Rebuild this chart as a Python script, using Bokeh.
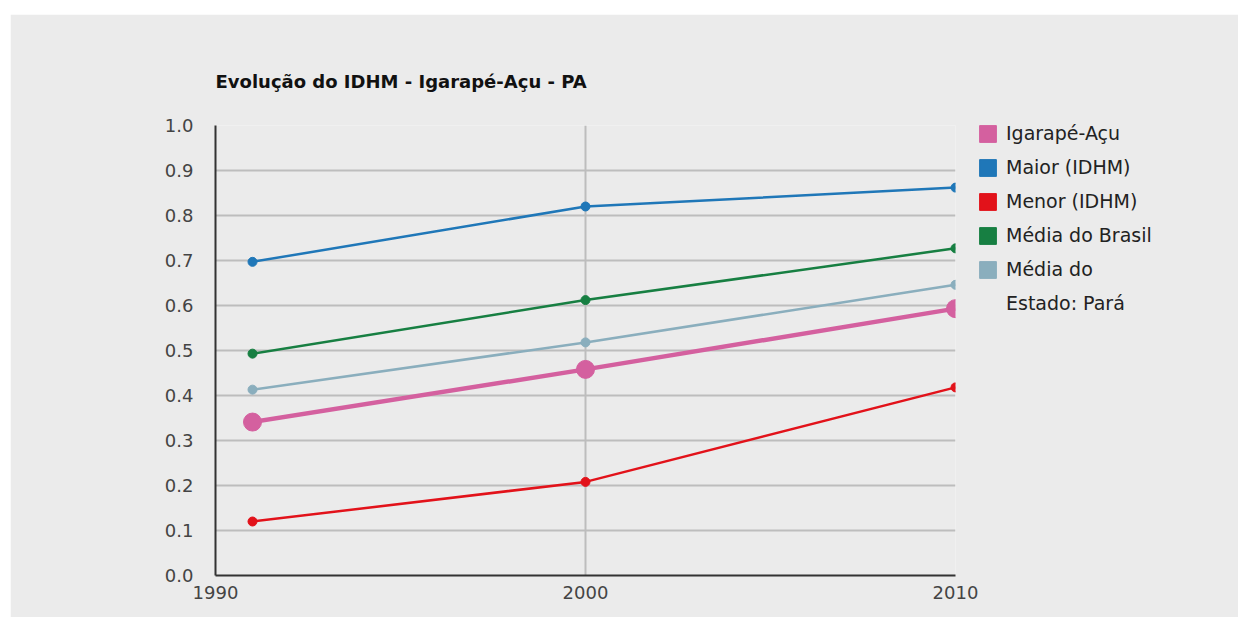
from bokeh.plotting import figure
from bokeh.models import (ColumnDataSource, Legend, LegendItem, FixedTicker,
                          NumeralTickFormatter, Range1d)
from bokeh.embed import file_html
from bokeh.resources import INLINE

years = [1991, 2000, 2010]
series_names = ["Igarapé-Açu", "Maior (IDHM)", "Menor (IDHM)", "Média do Brasil", "Média do", "Estado: Pará"]
igarape = [0.341, 0.458, 0.593]
maior = [0.697, 0.820, 0.862]
menor = [0.120, 0.208, 0.418]
brasil = [0.493, 0.612, 0.727]
para = [0.413, 0.518, 0.646]
x_ticks = [1990, 2000, 2010]
y_ticks = [0.0, 0.1, 0.2, 0.3, 0.4, 0.5, 0.6, 0.7, 0.8, 0.9, 1.0]

colors = ["#d4609f", "#1f77b8", "#e2121a", "#177f42", "#8aaebd"]
FONT = "DejaVu Sans"
BG = "#ebebeb"

p = figure(frame_width=740, frame_height=450, output_backend="svg", toolbar_location=None,
           x_range=Range1d(1990, 2010), y_range=Range1d(0, 1),
           min_border_left=205, min_border_right=282, min_border_top=111,
           min_border_bottom=42)
p.margin = (14, 0, 0, 10)
p.background_fill_color = BG
p.border_fill_color = BG
p.outline_line_color = None

p.title.text = "Evolução do IDHM - Igarapé-Açu - PA"
p.title.align = "left"
p.title.text_font = FONT
p.title.text_font_size = "18px"
p.title.text_font_style = "bold"
p.title.text_color = "#111111"
p.title.standoff = 68

# grids
p.xgrid.ticker = FixedTicker(ticks=x_ticks)
p.ygrid.ticker = FixedTicker(ticks=y_ticks)
for g in (p.xgrid, p.ygrid):
    g.grid_line_color = "#bdbdbd"
    g.grid_line_width = 2

# axes
for ax in (p.xaxis, p.yaxis):
    ax.axis_line_color = "#333333"
    ax.axis_line_width = 2
    ax.major_tick_line_color = None
    ax.minor_tick_line_color = None
    ax.major_tick_out = 0
    ax.major_tick_in = 0
    ax.major_label_text_font = FONT
    ax.major_label_text_font_size = "18px"
    ax.major_label_text_color = "#444444"
p.xaxis.ticker = FixedTicker(ticks=x_ticks)
p.yaxis.ticker = FixedTicker(ticks=y_ticks)
p.yaxis.formatter = NumeralTickFormatter(format="0.0")
p.yaxis.major_label_standoff = 22
p.xaxis.major_label_standoff = 10

data = [igarape, maior, menor, brasil, para]
for i in [4, 3, 2, 1, 0]:
    src = ColumnDataSource(dict(x=years, y=data[i]))
    lw = 4.5 if i == 0 else 2.5
    ms = 18 if i == 0 else 9
    p.line("x", "y", source=src, line_color=colors[i], line_width=lw)
    p.scatter("x", "y", source=src, size=ms, fill_color=colors[i], line_color=colors[i])

legend_items = []
for i, name in enumerate(series_names):
    if i < 5:
        q = p.quad(left=[1991], right=[1992], bottom=[0.5], top=[0.6],
                   fill_color=colors[i], line_color=colors[i], visible=False)
    else:
        q = p.quad(left=[1991], right=[1992], bottom=[0.5], top=[0.6],
                   fill_alpha=0, line_alpha=0, visible=False)
    legend_items.append(LegendItem(label=name, renderers=[q]))

legend = Legend(items=legend_items, location=(22, 261), margin=0, padding=0,
                glyph_width=21, glyph_height=21, label_height=21, spacing=12,
                label_standoff=8, label_text_font=FONT, label_text_font_size="19px",
                label_text_color="#222222",
                border_line_alpha=0, background_fill_alpha=0)
p.add_layout(legend, "right")

open("out.html", "w").write(file_html(p, INLINE))
